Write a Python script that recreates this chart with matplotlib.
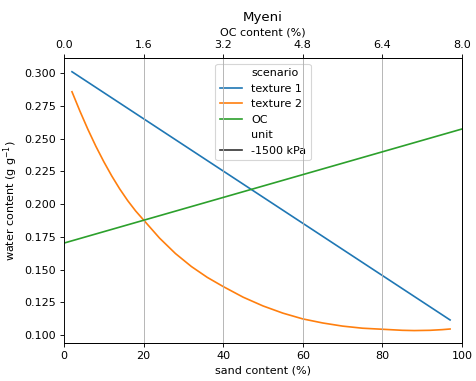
import matplotlib.pyplot as plt
from matplotlib.lines import Line2D

# texture 1 (linear in sand)
sand_t1 = [2, 97]
wc_t1 = [0.301, 0.1115]

# texture 2
sand_t2 = [2, 4, 6, 8, 10, 12, 14, 16, 18, 20, 24, 28, 32, 36, 40, 45, 50, 55, 60,
           65, 70, 75, 80, 85, 88, 92, 95, 97]
wc_t2 = [0.2857, 0.2709, 0.2570, 0.2441, 0.2323, 0.2214, 0.2115, 0.2026, 0.1947, 0.1878,
         0.1740, 0.1622, 0.1523, 0.1440, 0.1370, 0.1289, 0.1222, 0.1167, 0.1123,
         0.1092, 0.1068, 0.1052, 0.1044, 0.1036, 0.1034, 0.1036, 0.1041, 0.1046]

# OC
oc = [0, 8]
wc_oc = [0.1702, 0.2573]

oc_ticks = [0.0, 1.6, 3.2, 4.8, 6.4, 8.0]

fig, ax = plt.subplots(figsize=(5.95, 4.7625), dpi=80)
ax.plot(sand_t1, wc_t1, color='tab:blue')
ax.plot(sand_t2, wc_t2, color='tab:orange')
ax.set_xlim(0, 100)
ax.set_ylim(0.0939, 0.3115)
ax.set_xlabel("sand content (%)")
ax.set_ylabel("water content (g g$^{-1}$)")

ax2 = ax.twiny()
ax2.plot(oc, wc_oc, color='tab:green')
ax2.set_xlim(0, 8)
ax2.set_xticks(oc_ticks)
ax2.set_xlabel("OC content (%)")
ax2.grid(axis='x')
ax2.set_title("Myeni")

blank = Line2D([], [], color='none')
handles = [blank,
           Line2D([], [], color='tab:blue'),
           Line2D([], [], color='tab:orange'),
           Line2D([], [], color='tab:green'),
           blank,
           Line2D([], [], color='#333333')]
labels = ["scenario", "texture 1", "texture 2", "OC", "unit", "-1500 kPa"]
leg = ax.legend(handles, labels, loc='upper center')

fig.subplots_adjust(left=0.1345, right=0.9706, bottom=0.0997, top=0.8478)
plt.savefig("out.png")
